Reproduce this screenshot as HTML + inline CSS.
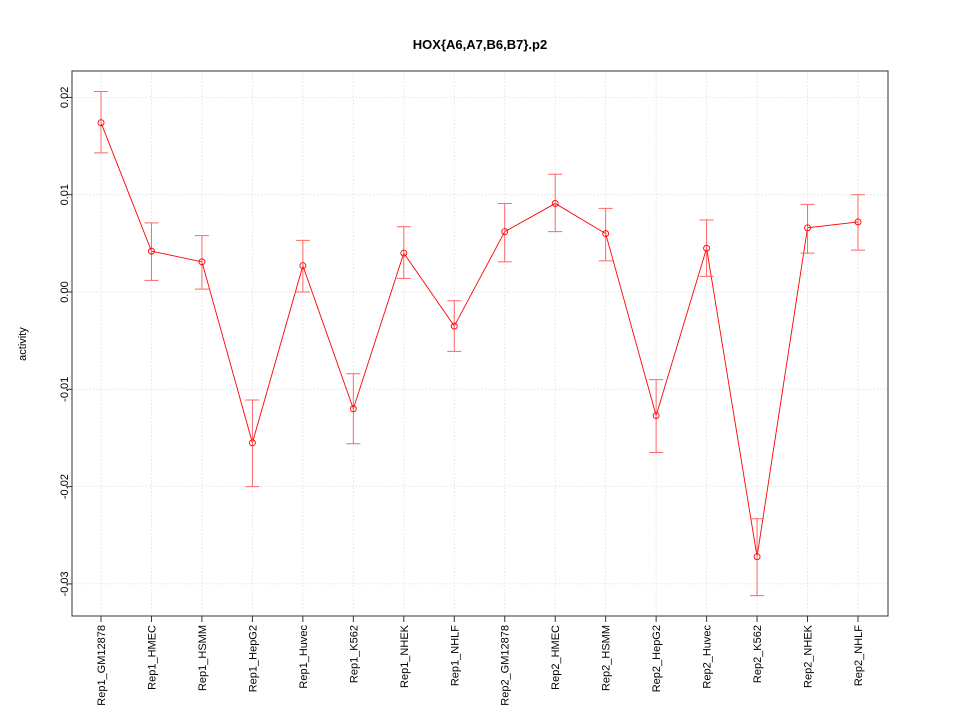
<!DOCTYPE html>
<html><head><meta charset="utf-8"><style>
body{margin:0;background:#fff;}
svg{display:block;font-family:"Liberation Sans",sans-serif;}
</style></head><body>
<svg id="c" width="960" height="720" xmlns="http://www.w3.org/2000/svg">
<text x="480" y="49" text-anchor="middle" font-weight="bold" font-size="13">HOX{A6,A7,B6,B7}.p2</text>
<text transform="translate(26,344) rotate(-90)" text-anchor="middle" font-size="11">activity</text>
<g id="grid"></g><g id="axes"></g><g id="marks"></g>
</svg>
<script>
const categories=["Rep1_GM12878","Rep1_HMEC","Rep1_HSMM","Rep1_HepG2","Rep1_Huvec","Rep1_K562","Rep1_NHEK","Rep1_NHLF","Rep2_GM12878","Rep2_HMEC","Rep2_HSMM","Rep2_HepG2","Rep2_Huvec","Rep2_K562","Rep2_NHEK","Rep2_NHLF"];
const values=[0.0174,0.0042,0.0031,-0.0155,0.0027,-0.0120,0.0040,-0.0035,0.0062,0.0091,0.0060,-0.0127,0.0045,-0.0272,0.0066,0.0072];
const upper=[0.0206,0.0071,0.0058,-0.0111,0.0053,-0.0084,0.0067,-0.0009,0.0091,0.0121,0.0086,-0.0090,0.0074,-0.0233,0.0090,0.0100];
const lower=[0.0143,0.0012,0.0003,-0.0200,0.0000,-0.0156,0.0014,-0.0061,0.0031,0.0062,0.0032,-0.0165,0.0016,-0.0312,0.0040,0.0043];
const yTicks=[0.02,0.01,0.00,-0.01,-0.02,-0.03];
const yTickLabels=["0.02","0.01","0.00","-0.01","-0.02","-0.03"];
const NS="http://www.w3.org/2000/svg";
const L=72,R=888,T=71,B=616;
const y=v=>292-v*9730;
const x=i=>101+i*(858-101)/(categories.length-1);
function mk(p,t,a){const e=document.createElementNS(NS,t);for(const k in a)e.setAttribute(k,a[k]);document.getElementById(p).appendChild(e);return e;}
categories.forEach((c,i)=>{
 const g=mk('grid','line',{x1:x(i),x2:x(i),y1:T,y2:B,stroke:'#ddd','stroke-width':0.8,'stroke-dasharray':'1.5,2'});
 
 
 const tk=mk('axes','line',{x1:x(i),x2:x(i),y1:B,y2:B+6,stroke:'#333'});
 
 
 const t=mk('axes','text',{transform:`translate(${x(i)+4},${B+9}) rotate(-90)`,'text-anchor':'end','font-size':'11'});
 t.textContent=c;
 
 
});
yTicks.forEach((v,i)=>{
 const g=mk('grid','line',{x1:L,x2:R,y1:y(v),y2:y(v),stroke:'#ddd','stroke-width':0.8,'stroke-dasharray':'1.5,2'});
 
 
 const tk=mk('axes','line',{x1:L-6,x2:L,y1:y(v),y2:y(v),stroke:'#333'});
 
 
 const t=mk('axes','text',{transform:`translate(${L-4},${y(v)}) rotate(-90)`,'text-anchor':'middle','font-size':'11'});
 t.textContent=yTickLabels[i];
 
 
});
const fr=mk('axes','rect',{x:L,y:T,width:R-L,height:B-T,fill:'none',stroke:'#333'});


const ln=mk('marks','polyline',{points:values.map((v,i)=>x(i)+','+y(v)).join(' '),fill:'none',stroke:'#f00','stroke-width':0.9});


values.forEach((v,i)=>{
 const e=mk('marks','path',{d:`M${x(i)},${y(upper[i])}V${y(lower[i])}M${x(i)-7},${y(upper[i])}h14M${x(i)-7},${y(lower[i])}h14`,stroke:'#f66',fill:'none','stroke-width':1});
 
 
 const p=mk('marks','circle',{cx:x(i),cy:y(v),r:3,fill:'none',stroke:'#f00','stroke-width':0.9});
 
 
});
</script>
</body></html>
